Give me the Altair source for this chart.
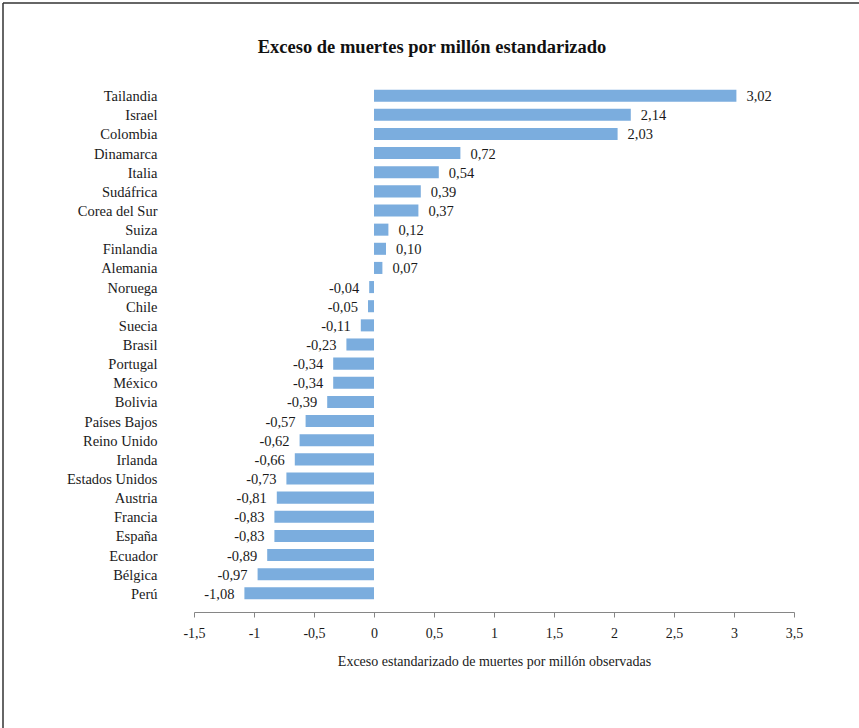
import altair as alt
import pandas as pd

countries = ["Tailandia", "Israel", "Colombia", "Dinamarca", "Italia", "Sudáfrica",
             "Corea del Sur", "Suiza", "Finlandia", "Alemania", "Noruega", "Chile",
             "Suecia", "Brasil", "Portugal", "México", "Bolivia", "Países Bajos",
             "Reino Unido", "Irlanda", "Estados Unidos", "Austria", "Francia",
             "España", "Ecuador", "Bélgica", "Perú"]
values = [3.02, 2.14, 2.03, 0.72, 0.54, 0.39, 0.37, 0.12, 0.10, 0.07, -0.04, -0.05,
          -0.11, -0.23, -0.34, -0.34, -0.39, -0.57, -0.62, -0.66, -0.73, -0.81,
          -0.83, -0.83, -0.89, -0.97, -1.08]
x_ticks = [-1.5, -1, -0.5, 0, 0.5, 1, 1.5, 2, 2.5, 3, 3.5]
title_text = "Exceso de muertes por millón estandarizado"
x_title = "Exceso estandarizado de muertes por millón observadas"

df = pd.DataFrame({"pais": countries, "valor": values})
df["etiqueta"] = [f"{v:.2f}".replace(".", ",") for v in values]

FONT = "Liberation Serif"
BAR = "#7badde"
TXT = "#1a1a1a"

y_enc = alt.Y("pais:N", sort=countries,
              scale=alt.Scale(paddingInner=0.37, paddingOuter=0.66),
              axis=alt.Axis(title=None, domain=False, ticks=False, labelPadding=37,
                            labelOffset=1.5,
                            labelFont=FONT, labelFontSize=14.5, labelColor=TXT))
x_enc = alt.X("valor:Q",
              scale=alt.Scale(domain=[-1.5, 3.5], nice=False, zero=False),
              axis=alt.Axis(values=x_ticks, grid=False,
                            labelExpr="replace(toString(datum.value), '.', ',')",
                            title=x_title,
                            titleFont=FONT, titleFontSize=14, titleFontWeight="normal",
                            titleColor=TXT, titlePadding=14,
                            labelFont=FONT, labelFontSize=14, labelColor=TXT,
                            labelPadding=9, tickSize=5, domainColor="#868686",
                            tickColor="#868686", labelFlush=False))

base = alt.Chart(df)
bars = base.mark_bar(color=BAR).encode(x=x_enc, x2=alt.datum(0), y=y_enc)

pos = base.transform_filter("datum.valor >= 0").mark_text(
    align="left", baseline="middle", dx=10, dy=1.5, font=FONT, fontSize=14.5, color=TXT
).encode(x="valor:Q", y=alt.Y("pais:N", sort=countries), text="etiqueta:N")
neg = base.transform_filter("datum.valor < 0").mark_text(
    align="right", baseline="middle", dx=-10, dy=1.5, font=FONT, fontSize=14.5, color=TXT
).encode(x="valor:Q", y=alt.Y("pais:N", sort=countries), text="etiqueta:N")

one = pd.DataFrame({"t": [title_text]})
title = alt.Chart(one).mark_text(
    font=FONT, fontSize=18.5, fontWeight="bold", color="#111111",
    align="center", baseline="middle"
).encode(text="t:N", x=alt.value(238), y=alt.value(-30))

border_top = alt.Chart(one).mark_rule(color="#333333", strokeWidth=1.5).encode(
    x=alt.value(-191), x2=alt.value(700), y=alt.value(-74))
border_left = alt.Chart(one).mark_rule(color="#333333", strokeWidth=1.5).encode(
    x=alt.value(-191), y=alt.value(-74), y2=alt.value(700))

chart = alt.layer(bars, pos, neg, title, border_top, border_left).properties(
    width=600, height=535,
    autosize=alt.AutoSizeParams(type="none"),
    padding={"left": 194, "top": 77, "right": 65, "bottom": 116},
    background="white",
).configure_view(stroke=None)

chart.save("out.html", embed_options={"renderer": "svg", "actions": False})
